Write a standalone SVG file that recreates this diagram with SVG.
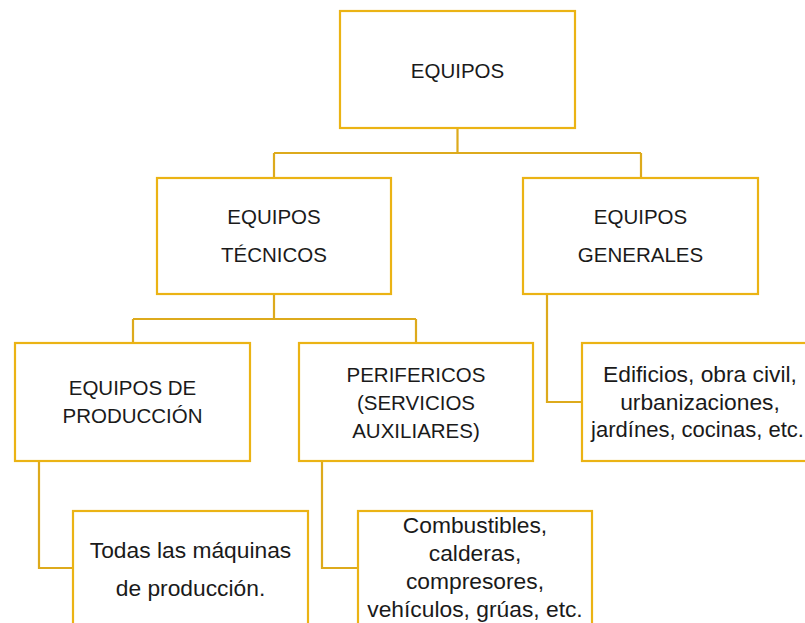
<svg xmlns="http://www.w3.org/2000/svg" width="805" height="623" viewBox="0 0 805 623">
<style>
.box{fill:#fff;stroke:#EBB314;stroke-width:2.2}
.ln{fill:none;stroke:#DDAA1C;stroke-width:2.2}
text{font-family:"Liberation Sans",Arial,sans-serif;font-size:20.5px;fill:#1a1a1a;text-anchor:middle}
.s{font-size:22.8px}
</style>
<rect width="805" height="623" fill="#fff"/>
<g id="connectors">
<path class="ln" d="M457.5 128V153M274 153H641M274 153V178M641 153V178"/>
<path class="ln" d="M274 294V319M133 319H416M133 319V343M416 319V343"/>
<path class="ln" d="M547 294V402H582"/>
<path class="ln" d="M39 461V568H73"/>
<path class="ln" d="M322 461V568H358"/>
</g>
<g id="n-equipos"><rect class="box" x="340" y="11" width="235" height="117"/><text x="457.5" y="78">EQUIPOS</text></g>
<g id="n-tecnicos"><rect class="box" x="157" y="178" width="234" height="116"/><text x="274" y="224">EQUIPOS</text><text x="274" y="262">TÉCNICOS</text></g>
<g id="n-generales"><rect class="box" x="523" y="178" width="235" height="116"/><text x="640.5" y="224">EQUIPOS</text><text x="640.5" y="262">GENERALES</text></g>
<g id="n-produccion"><rect class="box" x="15" y="343" width="235" height="118"/><text x="132.5" y="395">EQUIPOS DE</text><text x="132.5" y="423">PRODUCCIÓN</text></g>
<g id="n-perifericos"><rect class="box" x="299" y="343" width="234" height="118"/><text x="416" y="382">PERIFERICOS</text><text x="416" y="410">(SERVICIOS</text><text x="416" y="438">AUXILIARES)</text></g>
<g id="n-edificios"><rect class="box" x="582" y="343" width="235" height="118"/><text class="s" x="700" y="382">Edificios, obra civil,</text><text class="s" x="700" y="410">urbanizaciones,</text><text class="s" x="697.5" y="437" style="font-size:22px">jardínes, cocinas, etc.</text></g>
<g id="n-todas"><rect class="box" x="73" y="511" width="235" height="130"/><text class="s" x="190.5" y="558">Todas las máquinas</text><text class="s" x="190.5" y="596">de producción.</text></g>
<g id="n-combustibles"><rect class="box" x="358" y="511" width="234" height="130"/><text class="s" x="475" y="533">Combustibles,</text><text class="s" x="475" y="561">calderas,</text><text class="s" x="475" y="589">compresores,</text><text class="s" x="475" y="617">vehículos, grúas, etc.</text></g>
</svg>
